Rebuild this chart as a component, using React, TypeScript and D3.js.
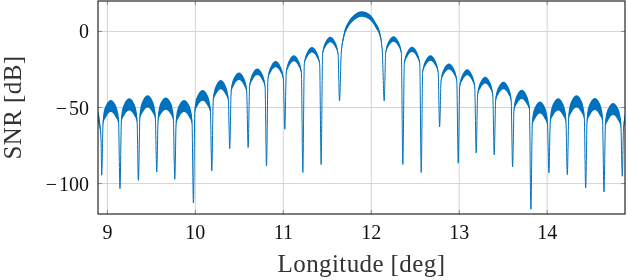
import * as d3 from 'd3';

const lonTicks = [9, 10, 11, 12, 13, 14];
const snrTicks = [-100, -50, 0];
const lonRange = [8.893, 14.885];
const snrRange = [-120, 20];

// longitude [deg], SNR [dB], half-width of the noise band [dB]
const trace: [number, number, number][] = [
	[8.893, -56, 4], [8.915, -62, 3], [8.928, -72, 1], [8.935, -94.5, 0],
	[8.952, -58, 3], [8.987, -52, 4], [9.039, -49, 4], [9.091, -52, 4], [9.126, -58, 3], [9.143, -103.3, 0],
	[9.160, -57, 3], [9.195, -51, 4], [9.248, -48, 4], [9.301, -51, 4], [9.336, -57, 3], [9.353, -97.8, 0],
	[9.370, -55, 3], [9.405, -49, 4], [9.457, -46, 4], [9.509, -49, 4], [9.544, -55, 3], [9.561, -92.4, 0],
	[9.578, -56, 3], [9.613, -50, 4], [9.664, -47.4, 4], [9.714, -50, 4], [9.749, -56, 3], [9.766, -97.2, 0],
	[9.783, -58, 3], [9.818, -52, 4], [9.872, -49, 4], [9.926, -52, 4], [9.961, -58, 3], [9.978, -112.8, 0],
	[9.995, -51, 2.5], [10.030, -45, 3.5], [10.083, -42, 3.5], [10.135, -45, 3.5], [10.170, -51, 2.5], [10.187, -91.7, 0],
	[10.204, -44, 2], [10.239, -38, 3], [10.289, -35, 3], [10.339, -38, 3], [10.374, -44, 2], [10.391, -77, 0],
	[10.408, -38.5, 2], [10.443, -32.5, 2.5], [10.496, -29.5, 2.5], [10.548, -32.5, 2.5], [10.583, -38.5, 2], [10.600, -76.3, 0],
	[10.617, -35.5, 1.5], [10.652, -29.5, 2.2], [10.705, -26.5, 2.2], [10.757, -29.5, 2.2], [10.792, -35.5, 1.5], [10.809, -88.4, 0],
	[10.826, -30.5, 1.5], [10.861, -24.5, 2], [10.913, -21.5, 2], [10.965, -24.5, 2], [11.000, -30.5, 1.5], [11.017, -64.3, 0],
	[11.034, -26.6, 1.5], [11.069, -20.6, 2], [11.120, -17.6, 2], [11.170, -20.6, 2], [11.205, -26.6, 1.5], [11.222, -92.8, 0],
	[11.239, -21, 1.3], [11.274, -15, 1.8], [11.326, -12, 1.8], [11.378, -15, 1.8], [11.413, -21, 1.3], [11.430, -87.5, 0],
	[11.447, -14.3, 1.3], [11.482, -8.3, 1.8], [11.535, -5.3, 1.8], [11.587, -8.3, 1.8], [11.622, -14.3, 1.3], [11.639, -45.7, 0],
	[11.659, -14, 1.3], [11.688, -3, 1.8], [11.733, 4, 1.8], [11.801, 9, 1.8], [11.892, 11.5, 1.8],
	[11.983, 9.5, 1.8], [12.051, 4, 1.8], [12.103, -3, 1.8], [12.126, -14, 1.3], [12.147, -45.7, 0],
	[12.164, -14, 1.3], [12.199, -8, 1.8], [12.253, -5, 1.8], [12.307, -8, 1.8], [12.342, -14, 1.3], [12.359, -87.5, 0],
	[12.376, -20.8, 1.3], [12.411, -14.8, 1.8], [12.464, -11.8, 1.8], [12.516, -14.8, 1.8], [12.551, -20.8, 1.3], [12.568, -92.8, 0],
	[12.585, -26.4, 1.3], [12.620, -20.4, 1.8], [12.673, -17.4, 1.8], [12.725, -20.4, 1.8], [12.760, -26.4, 1.3], [12.777, -62.8, 0],
	[12.794, -32, 1.5], [12.829, -26, 2], [12.883, -23, 2], [12.937, -26, 2], [12.972, -32, 1.5], [12.989, -86.6, 0],
	[13.006, -35.8, 1.5], [13.041, -29.8, 2], [13.091, -26.8, 2], [13.141, -29.8, 2], [13.176, -35.8, 1.5], [13.193, -79.9, 0],
	[13.210, -41, 1.5], [13.245, -35, 2.2], [13.296, -32, 2.2], [13.346, -35, 2.2], [13.381, -41, 1.5], [13.398, -81.2, 0],
	[13.415, -44.5, 2], [13.450, -38.5, 2.5], [13.503, -35.5, 2.5], [13.555, -38.5, 2.5], [13.590, -44.5, 2], [13.607, -89.1, 0],
	[13.624, -50.4, 2], [13.659, -44.4, 3], [13.711, -41.4, 3], [13.763, -44.4, 3], [13.798, -50.4, 2], [13.815, -116.9, 0],
	[13.832, -59, 3], [13.867, -53, 4], [13.918, -50, 4], [13.968, -53, 4], [14.003, -59, 3], [14.020, -93, 0],
	[14.037, -57, 3], [14.072, -51, 4], [14.125, -48, 4], [14.177, -51, 4], [14.212, -57, 3], [14.229, -94.1, 0],
	[14.246, -55, 3], [14.281, -49, 4], [14.334, -46, 4], [14.386, -49, 4], [14.421, -55, 3], [14.438, -102.9, 0],
	[14.455, -56.7, 3], [14.490, -50.7, 4], [14.542, -47.7, 4], [14.594, -50.7, 4], [14.629, -56.7, 3], [14.646, -105.5, 0],
	[14.663, -60, 3], [14.698, -54, 4], [14.750, -51, 4], [14.802, -54, 4], [14.837, -60, 3], [14.854, -95.2, 0],
	[14.868, -64, 2], [14.885, -57, 3],
];

const width = 628;
const height = 280;
const margin = { top: 1, right: 3, bottom: 66, left: 98 };
const blue = '#0072bd';
const font = '"Liberation Serif", "DejaVu Serif", serif';

export default function App() {
	const x = d3.scaleLinear().domain(lonRange).range([margin.left, width - margin.right]);
	const y = d3.scaleLinear().domain(snrRange).range([height - margin.bottom, margin.top]);

	const line = d3.line<[number, number, number]>()
		.x(d => x(d[0]))
		.y(d => y(d[1]))
		.curve(d3.curveMonotoneX);

	const band = d3.area<[number, number, number]>()
		.x(d => x(d[0]))
		.y0(d => y(d[1] - d[2]))
		.y1(d => y(d[1] + d[2]))
		.curve(d3.curveMonotoneX);

	const [x0, x1] = x.range();
	const [y0, y1] = y.range();

	return (
		<svg width={width} height={height} style={{ position: 'fixed', left: 0, top: 0, fontFamily: font }}>
			<defs>
				<clipPath id="plot">
					<rect x={x0} y={y1} width={x1 - x0} height={y0 - y1} />
				</clipPath>
			</defs>

			{lonTicks.map(t => (
				<g key={'x' + t}>
					<line x1={x(t)} x2={x(t)} y1={y1} y2={y0} stroke="#d4d4d4" />
					<line x1={x(t)} x2={x(t)} y1={y0} y2={y0 - 4} stroke="#8c8c8c" />
					<line x1={x(t)} x2={x(t)} y1={y1} y2={y1 + 4} stroke="#8c8c8c" />
					<text x={x(t)} y={y0 + 25} textAnchor="middle" fontSize={20} fill="#111">{t}</text>
				</g>
			))}
			{snrTicks.map(t => (
				<g key={'y' + t}>
					<line x1={x0} x2={x1} y1={y(t)} y2={y(t)} stroke="#d4d4d4" />
					<line x1={x0} x2={x0 + 4} y1={y(t)} y2={y(t)} stroke="#8c8c8c" />
					<line x1={x1} x2={x1 - 4} y1={y(t)} y2={y(t)} stroke="#8c8c8c" />
					<text x={x0 - 9} y={y(t) + 7} textAnchor="end" fontSize={20} fill="#111">
						{t < 0 && <tspan>{'\u2212'}</tspan>}
						<tspan dx={t < 0 ? 2 : 0}>{Math.abs(t)}</tspan>
					</text>
				</g>
			))}

			<g clipPath="url(#plot)">
				<path d={band(trace) ?? ''} fill={blue} />
				<path d={line(trace) ?? ''} fill="none" stroke={blue} strokeWidth={1} />
			</g>

			<rect x={x0} y={y1} width={x1 - x0} height={y0 - y1} fill="none" stroke="#262626" strokeWidth={1.2} />

			<text x={(x0 + x1) / 2} y={272} textAnchor="middle" fontSize={25} letterSpacing={0.4} fill="#333">Longitude [deg]</text>
			<text transform={`translate(20.5,${(y0 + y1) / 2}) rotate(-90)`} textAnchor="middle" fontSize={25} letterSpacing={0.4} fill="#333">SNR [dB]</text>
		</svg>
	);
}
